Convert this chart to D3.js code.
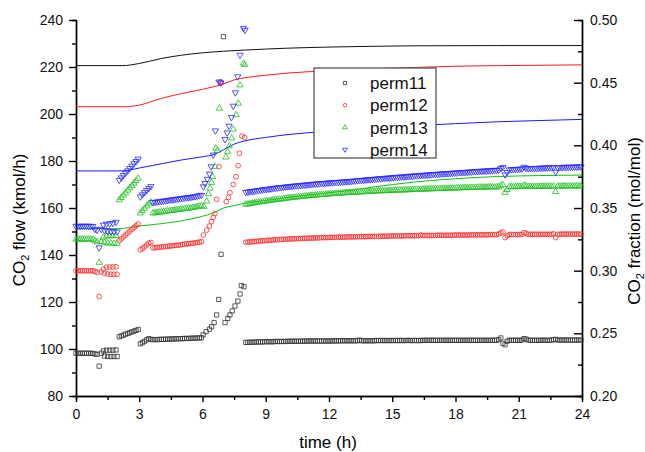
<!DOCTYPE html>
<html lang="en">
<head>
<meta charset="UTF-8">
<title>CO2 flow and CO2 fraction vs time</title>
<script src="https://cdn.jsdelivr.net/npm/d3@7"></script>
<style>
    body { margin: 0; background: #fff; }
    svg { font-family: "Liberation Sans", Arial, sans-serif; }
</style>
</head>
<body>
<script>
    // ---- data ----
    let seriesNames = ["perm11", "perm12", "perm13", "perm14"]
    let seriesColors = {perm11: '#333333', perm12: '#ff2a2a', perm13: '#22c022', perm14: '#2a2aff'}
    let lineColors = {perm11: '#111111', perm12: '#ff1a1a', perm13: '#10c010', perm14: '#1a1aff'}

    let timeTicks = [0, 3, 6, 9, 12, 15, 18, 21, 24]
    let timeMinor = [1.5, 4.5, 7.5, 10.5, 13.5, 16.5, 19.5, 22.5]
    let flowTicks = [80, 100, 120, 140, 160, 180, 200, 220, 240]
    let flowMinor = [90, 110, 130, 150, 170, 190, 210, 230]
    let fracTicks = [0.20, 0.25, 0.30, 0.35, 0.40, 0.45, 0.50]
    let fracMinor = [0.225, 0.275, 0.325, 0.375, 0.425, 0.475]

    // CO2 flow (kmol/h), start-up period: [time, flow]
    let perm11Early = [[0,98.2],[0.1,98.2],[0.2,98.2],[0.3,98.2],[0.4,98.2],[0.5,98.2],[0.6,98.2],[0.7,98.2],[0.8,98.1],[0.9,97.9],[1.0,97.7],[1.1,92.7],[1.2,98.2],
        [1.3,99.2],[1.45,99.5],[1.6,99.5],[1.75,99.5],[1.9,99.6],[1.35,97.0],[1.5,96.8],[1.65,96.8],[1.8,96.8],[1.95,96.8],
        [2.05,105.2],[2.15,105.6],[2.25,105.9],[2.35,106.3],[2.45,106.6],[2.55,106.9],[2.65,107.3],[2.75,107.6],[2.85,107.9],[2.95,108.3],
        [3.05,102.2],[3.15,102.7],[3.25,103.3],[3.35,103.9],[3.45,104.4],[3.55,104.1],
        [3.65,104.0],[3.75,104.0],[3.85,104.0],[3.95,104.1],[4.05,104.1],[4.15,104.1],[4.25,104.2],[4.35,104.2],[4.45,104.2],[4.55,104.3],[4.65,104.3],[4.75,104.3],
        [4.85,104.4],[4.95,104.4],[5.05,104.4],[5.15,104.5],[5.25,104.5],[5.35,104.5],[5.45,104.6],[5.55,104.6],[5.65,104.6],[5.75,104.7],[5.85,104.7],[5.95,104.8],
        [6.03,106.0],[6.17,107.4],[6.33,108.4],[6.43,109.5],[6.55,111.2],[6.67,114.5],[6.77,121.1],[6.88,140.3],[6.99,232.9],
        [7.07,111.2],[7.2,113.0],[7.3,114.5],[7.41,116.2],[7.54,118.3],[7.68,120.4],[7.78,123.4],[7.84,127.0],[7.97,126.5]]
    let perm12Early = [[0,133.3],[0.1,133.3],[0.2,133.3],[0.3,133.3],[0.4,133.3],[0.5,133.3],[0.6,133.3],[0.7,133.3],[0.8,133.3],[0.9,133.0],[1.0,132.6],[1.1,122.3],[1.2,132.8],
        [1.3,134.0],[1.45,134.8],[1.6,134.9],[1.75,134.9],[1.9,135.0],[1.35,132.2],[1.5,131.9],[1.65,131.8],[1.8,131.8],[1.95,131.8],
        [2.05,146.1],[2.15,146.9],[2.25,147.7],[2.35,148.5],[2.45,149.3],[2.55,150.1],[2.65,150.9],[2.75,151.7],[2.85,152.4],[2.95,153.2],
        [3.05,142.2],[3.15,142.8],[3.25,143.5],[3.35,144.3],[3.45,145.0],[3.55,145.3],
        [3.65,143.0],[3.75,143.1],[3.85,143.2],[3.95,143.3],[4.05,143.4],[4.15,143.5],[4.25,143.6],[4.35,143.7],[4.45,143.8],[4.55,143.9],[4.65,144.0],[4.75,144.1],
        [4.85,144.2],[4.95,144.3],[5.05,144.5],[5.15,144.6],[5.25,144.7],[5.35,144.8],[5.45,144.9],[5.55,145.1],[5.65,145.2],[5.75,145.3],[5.85,145.5],[5.95,145.7],
        [6.04,148.5],[6.2,150.6],[6.33,152.3],[6.43,154.2],[6.51,156.0],[6.59,157.6],[6.67,163.7],[6.78,177.6],[6.86,213.7],[6.9,213.2],
        [7.13,162.7],[7.23,164.5],[7.3,166.5],[7.46,170.0],[7.59,173.3],[7.69,178.0],[7.75,183.3],[7.87,190.6],[8.0,190.0]]
    let perm13Early = [[0,146.7],[0.1,146.7],[0.2,146.7],[0.3,146.7],[0.4,146.7],[0.5,146.7],[0.6,146.7],[0.7,146.7],[0.8,146.6],[0.9,146.0],[1.0,145.5],[1.1,136.8],[1.2,145.6],
        [1.3,147.5],[1.45,148.0],[1.6,148.1],[1.75,148.1],[1.9,148.2],[1.35,145.3],[1.5,145.0],[1.65,145.0],[1.8,144.9],[1.95,144.9],
        [2.05,163.4],[2.15,164.4],[2.25,165.4],[2.35,166.4],[2.45,167.5],[2.55,168.5],[2.65,169.5],[2.75,170.5],[2.85,171.6],[2.95,172.6],
        [3.05,157.8],[3.15,158.8],[3.25,159.8],[3.35,160.8],[3.45,161.7],[3.55,162.5],
        [3.65,157.8],[3.75,157.9],[3.85,158.0],[3.95,158.2],[4.05,158.3],[4.15,158.4],[4.25,158.5],[4.35,158.7],[4.45,158.8],[4.55,158.9],[4.65,159.0],[4.75,159.2],
        [4.85,159.3],[4.95,159.4],[5.05,159.5],[5.15,159.7],[5.25,159.8],[5.35,159.9],[5.45,160.0],[5.55,160.2],[5.65,160.3],[5.75,160.5],[5.85,160.7],[5.95,160.9],
        [6.07,160.6],[6.2,162.9],[6.28,166.0],[6.36,168.4],[6.43,170.8],[6.48,173.3],[6.59,177.6],[6.64,185.4],[6.7,184.4],[6.8,202.4],
        [7.11,181.6],[7.19,184.0],[7.27,186.4],[7.38,189.7],[7.46,193.5],[7.59,199.6],[7.7,204.5],[7.78,212.3],[7.94,221.6],[8.0,221.0]]
    let perm14Early = [[0,152.3],[0.1,152.3],[0.2,152.3],[0.3,152.3],[0.4,152.3],[0.5,152.3],[0.6,152.3],[0.7,152.3],[0.8,152.2],[0.9,151.0],[1.0,150.6],[1.1,143.1],[1.2,151.0],
        [1.3,152.8],[1.45,153.2],[1.6,153.3],[1.75,153.5],[1.9,154.0],[1.35,150.5],[1.5,150.2],[1.65,150.0],[1.8,150.0],[1.95,149.9],
        [2.05,171.9],[2.15,172.9],[2.25,173.9],[2.35,174.9],[2.45,175.9],[2.55,176.9],[2.65,177.9],[2.75,178.9],[2.85,179.9],[2.95,180.9],
        [3.05,164.8],[3.15,165.7],[3.25,166.6],[3.35,167.5],[3.45,168.4],[3.55,169.2],
        [3.65,162.4],[3.75,162.5],[3.85,162.6],[3.95,162.8],[4.05,162.9],[4.15,163.0],[4.25,163.1],[4.35,163.3],[4.45,163.4],[4.55,163.5],[4.65,163.6],[4.75,163.8],
        [4.85,163.9],[4.95,164.0],[5.05,164.1],[5.15,164.3],[5.25,164.4],[5.35,164.5],[5.45,164.6],[5.55,164.8],[5.65,164.9],[5.75,165.1],[5.85,165.3],[5.95,165.5],
        [6.04,169.1],[6.12,170.5],[6.23,172.3],[6.33,174.5],[6.41,177.6],[6.51,182.6],[6.61,192.9],[6.78,213.7],[6.86,213.3],
        [7.07,189.2],[7.17,192.0],[7.26,194.9],[7.37,198.6],[7.46,203.4],[7.56,209.1],[7.67,215.9],[7.78,225.1],[7.94,236.5],[8.02,235.7]]

    // CO2 flow (kmol/h), steady period: one value every lateStep hours from lateStart
    let lateStart = 8.05
    let lateStep = 0.1
    let perm11Late = [
        102.8,102.8,102.9,102.9,102.9,103.0,103.0,103.0,103.0,103.1, 103.1,103.1,103.1,103.1,103.2,103.2,103.2,103.2,103.2,103.2,
        103.3,103.3,103.3,103.3,103.3,103.3,103.3,103.4,103.3,103.4, 103.4,103.4,103.4,103.4,103.4,103.4,103.4,103.4,103.4,103.4,
        103.4,103.4,103.5,103.4,103.5,103.5,103.5,103.5,103.5,103.5, 103.5,103.5,103.5,103.5,103.8,103.5,103.5,103.5,103.5,103.5,
        103.5,103.5,103.6,103.6,103.6,103.6,103.6,103.6,103.6,103.6, 103.6,103.6,103.6,103.6,103.6,103.6,103.6,103.7,103.6,103.6,
        103.6,103.6,103.6,103.6,103.7,103.7,103.7,103.7,103.7,103.7, 103.7,103.7,103.7,103.7,103.7,103.7,103.7,103.7,103.7,103.7,
        103.7,103.7,103.7,103.7,103.7,103.7,103.7,103.7,103.7,103.7, 103.7,103.7,103.7,103.7,103.7,103.7,103.7,103.7,103.7,103.8,
        104.0,104.7,102.4,101.8,103.3,103.7,103.7,103.7,103.7,103.7, 103.7,103.8,104.4,104.2,103.8,103.7,103.7,103.7,103.7,103.7,
        103.7,103.8,103.7,103.7,103.7,103.8,104.0,104.1,103.8,103.8, 103.8,103.8,103.8,103.8,103.8,103.8,103.8,103.8,103.8,103.8]
    let perm12Late = [
        145.4,145.5,145.6,145.6,145.7,145.8,145.9,146.0,146.0,146.1, 146.2,146.3,146.3,146.4,146.5,146.5,146.6,146.6,146.7,146.7,
        146.8,146.8,146.9,146.9,147.0,147.0,147.0,147.1,147.1,147.1, 147.2,147.2,147.2,147.3,147.3,147.3,147.4,147.4,147.4,147.4,
        147.5,147.5,147.5,147.5,147.6,147.6,147.6,147.6,147.7,147.7, 147.7,147.7,147.7,147.8,147.8,147.8,147.8,147.8,147.9,147.9,
        147.9,147.9,147.9,147.9,148.0,148.0,148.0,148.0,148.0,148.1, 148.1,148.1,148.1,148.1,148.1,148.1,148.2,148.2,148.2,148.2,
        148.2,148.2,148.2,148.5,148.3,148.3,148.3,148.3,148.3,148.3, 148.3,148.4,148.4,148.4,148.4,148.4,148.4,148.4,148.4,148.5,
        148.5,148.5,148.5,148.5,148.5,148.5,148.5,148.6,148.6,148.6, 148.6,148.6,148.6,148.6,148.6,148.6,148.7,148.7,148.7,148.7,
        148.9,149.4,149.8,147.4,148.2,148.7,148.7,148.7,148.7,148.7, 148.7,148.8,149.5,149.2,148.8,148.8,148.8,148.8,148.8,148.8,
        148.8,148.8,148.8,148.8,148.8,148.8,149.0,147.4,148.8,148.8, 148.9,148.9,148.9,148.9,148.9,148.9,148.9,148.9,148.9,148.9]
    let perm13Late = [
        161.5,161.7,161.8,162.0,162.1,162.3,162.4,162.6,162.7,162.9, 163.0,163.1,163.2,163.4,163.5,163.6,163.7,163.8,163.9,164.1,
        164.2,164.3,164.4,164.5,164.6,164.7,164.8,164.9,165.0,165.1, 165.2,165.3,165.4,165.4,165.5,165.6,165.7,165.7,165.8,165.9,
        166.0,166.0,166.1,166.2,166.2,166.3,166.3,166.4,166.5,166.5, 166.6,166.6,166.7,166.7,166.8,166.8,166.9,166.9,167.0,167.0,
        167.1,167.1,167.2,167.2,167.2,167.3,167.3,167.3,167.4,167.4, 167.5,167.5,167.5,167.6,167.6,167.6,167.7,167.7,167.7,167.8,
        167.9,167.9,167.9,167.9,168.0,168.0,168.0,168.1,168.1,168.1, 168.2,168.2,168.2,168.3,168.3,168.3,168.3,168.4,168.4,168.4,
        168.5,168.5,168.5,168.6,168.6,168.6,168.6,168.7,168.7,168.7, 168.8,168.8,168.8,168.8,168.8,168.9,168.9,168.9,168.9,168.9,
        169.0,169.6,169.8,166.6,167.8,169.0,169.0,169.0,169.0,169.1, 169.1,169.1,169.6,169.4,169.1,169.1,169.1,169.1,169.1,169.1,
        169.2,169.2,169.2,169.2,169.2,169.2,169.3,166.9,169.2,169.2, 169.3,169.3,169.3,169.3,169.3,169.3,169.3,169.3,169.3,169.3]
    let perm14Late = [
        166.7,166.8,167.0,167.1,167.2,167.4,167.5,167.6,167.8,167.9, 168.0,168.1,168.2,168.4,168.5,168.6,168.7,168.8,168.9,169.0,
        169.1,169.2,169.3,169.4,169.5,169.5,169.6,169.7,169.8,169.9, 170.0,170.1,170.2,170.2,170.3,170.4,170.5,170.5,170.6,170.7,
        170.8,170.8,170.9,170.9,171.0,171.1,171.1,171.2,171.3,171.3, 171.4,171.5,171.6,171.7,171.8,171.8,171.9,172.0,172.1,172.1,
        172.2,172.3,172.4,172.5,172.5,172.6,172.7,172.8,172.8,172.9, 173.0,173.1,173.1,173.2,173.3,173.3,173.4,173.5,173.6,173.6,
        173.7,173.8,173.8,173.9,174.0,174.0,174.1,174.2,174.2,174.3, 174.4,174.4,174.5,174.6,174.6,174.7,174.7,174.8,174.9,174.9,
        175.0,175.1,175.1,175.2,175.2,175.3,175.4,175.4,175.5,175.5, 175.6,175.7,175.7,175.8,175.8,175.9,175.9,176.0,176.1,176.1,
        176.2,176.9,177.3,174.2,175.2,176.3,176.4,176.4,176.5,176.5, 176.6,176.7,177.4,177.0,176.8,176.8,176.9,176.9,176.9,177.0,
        177.0,177.1,177.1,177.1,177.2,177.2,177.3,175.3,177.2,177.3, 177.3,177.4,177.4,177.4,177.4,177.5,177.5,177.5,177.6,177.6]

    // CO2 fraction (mol/mol), right axis: [time, fraction]
    let perm11Frac = [[0,0.4636],[2.2,0.4636],[3,0.4653],[4,0.4691],[5,0.4719],[6,0.4738],[7,0.4751],[8,0.4760],[10,0.4775],[12,0.4784],[14,0.4790],[16,0.4794],[20,0.4796],[24,0.4796]]
    let perm12Frac = [[0,0.4308],[2.3,0.4308],[3,0.4321],[4,0.4372],[5,0.4413],[6,0.4447],[7,0.4490],[7.5,0.4522],[8,0.4539],[9,0.4559],[10,0.4576],[12,0.4595],[14,0.4610],[16,0.4621],[18,0.4631],[20,0.4636],[24,0.4642]]
    let perm13Frac = [[0,0.3335],[2,0.3335],[3,0.3356],[4,0.3374],[5,0.3397],[6,0.3434],[6.5,0.3459],[7,0.3500],[7.5,0.3519],[8,0.3538],[9,0.3560],[10,0.3583],[11,0.3603],[12,0.3622],[13,0.3641],[14,0.3665],[16,0.3706],[18,0.3734],[20,0.3751],[22,0.3759],[24,0.3763]]
    let perm14Frac = [[0,0.3796],[2.2,0.3796],[3,0.3819],[4,0.3851],[5,0.3883],[6,0.3909],[6.6,0.3930],[7,0.3965],[7.5,0.4010],[8,0.4035],[9,0.4063],[10,0.4085],[12,0.4113],[14,0.4138],[16,0.4156],[18,0.4173],[20,0.4188],[22,0.4198],[24,0.4207]]

    let flowEarly = {perm11: perm11Early, perm12: perm12Early, perm13: perm13Early, perm14: perm14Early}
    let flowLate = {perm11: perm11Late, perm12: perm12Late, perm13: perm13Late, perm14: perm14Late}
    let fracLines = {perm11: perm11Frac, perm12: perm12Frac, perm13: perm13Frac, perm14: perm14Frac}

    // ---- chart ----
    let svg = d3.select('body').append('svg')
        .attr('width', 645)
        .attr('height', 452)

    let x = d3.scaleLinear().domain([0, 24]).range([76, 582])
    let y = d3.scaleLinear().domain([80, 240]).range([396, 20])
    let yR = d3.scaleLinear().domain([0.2, 0.5]).range([396, 20])

    function styleAxis(g) {
        g.select('.domain').attr('stroke', '#000').attr('stroke-width', 1.4)
        g.selectAll('.tick line').attr('stroke', '#000').attr('stroke-width', 1.4)
        g.selectAll('.tick text').attr('font-size', 14).attr('fill', '#111')
            .attr('font-family', '"Liberation Sans", Arial, sans-serif')
    }

    // bottom axis
    svg.append('g').attr('transform', 'translate(0,396)')
        .call(d3.axisBottom(x).tickValues(timeMinor).tickSize(4).tickFormat(''))
        .call(styleAxis)
    svg.append('g').attr('transform', 'translate(0,396)')
        .call(d3.axisBottom(x).tickValues(timeTicks).tickSizeInner(6).tickSizeOuter(0).tickPadding(7))
        .call(styleAxis)

    // left axis
    svg.append('g').attr('transform', 'translate(76,0)')
        .call(d3.axisLeft(y).tickValues(flowMinor).tickSize(4).tickFormat(''))
        .call(styleAxis)
    svg.append('g').attr('transform', 'translate(76,0)')
        .call(d3.axisLeft(y).tickValues(flowTicks).tickSizeInner(7).tickSizeOuter(0).tickPadding(6))
        .call(styleAxis)

    // right axis, ticks pointing inwards
    svg.append('g').attr('transform', 'translate(582,0)')
        .call(d3.axisRight(yR).tickValues(fracMinor).tickSize(-4).tickFormat(''))
        .call(styleAxis)
    svg.append('g').attr('transform', 'translate(582,0)')
        .call(d3.axisRight(yR).tickValues(fracTicks).tickSizeInner(-8).tickSizeOuter(0).tickPadding(8).tickFormat(d3.format('.2f')))
        .call(styleAxis)

    // axis titles
    svg.append('text')
        .attr('x', 328).attr('y', 448)
        .attr('text-anchor', 'middle')
        .attr('font-size', 17)
        .text('time (h)')

    let leftTitle = svg.append('text')
        .attr('transform', 'translate(25,220) rotate(-90)')
        .attr('text-anchor', 'middle')
        .attr('font-size', 17)
    leftTitle.append('tspan').text('CO')
    leftTitle.append('tspan').attr('font-size', 11).attr('dy', 4).text('2')
    leftTitle.append('tspan').attr('dy', -4).text(' flow (kmol/h)')

    let rightTitle = svg.append('text')
        .attr('transform', 'translate(640,221) rotate(-90)')
        .attr('text-anchor', 'middle')
        .attr('font-size', 17)
    rightTitle.append('tspan').text('CO')
    rightTitle.append('tspan').attr('font-size', 11).attr('dy', 4).text('2')
    rightTitle.append('tspan').attr('dy', -4).text(' fraction (mol/mol)')

    // fraction lines
    let fracLine = d3.line()
        .x(function (d) { return x(d[0]) })
        .y(function (d) { return yR(d[1]) })
        .curve(d3.curveMonotoneX)

    svg.selectAll('path.frac')
        .data(seriesNames)
        .enter()
        .append('path')
        .attr('class', 'frac')
        .attr('d', function (d) { return fracLine(fracLines[d]) })
        .attr('fill', 'none')
        .attr('stroke', function (d) { return lineColors[d] })
        .attr('stroke-width', 1)

    // flow markers
    let symbolType = {perm11: d3.symbolSquare, perm12: d3.symbolCircle, perm13: d3.symbolTriangle, perm14: d3.symbolTriangle}
    let symbolSize = {perm11: 18, perm12: 18, perm13: 17, perm14: 17}
    let symbolRotate = {perm11: 0, perm12: 0, perm13: 0, perm14: 180}

    function flowPoints(name) {
        let pts = flowEarly[name].map(function (p) { return {t: p[0], v: p[1]} })
        flowLate[name].forEach(function (v, i) {
            pts.push({t: lateStart + i * lateStep, v: v})
        })
        return pts
    }

    seriesNames.forEach(function (name) {
        let sym = d3.symbol().type(symbolType[name]).size(symbolSize[name])
        svg.append('g')
            .selectAll('path')
            .data(flowPoints(name))
            .enter()
            .append('path')
            .attr('d', sym)
            .attr('transform', function (d) {
                return 'translate(' + x(d.t) + ',' + y(d.v) + ') rotate(' + symbolRotate[name] + ')'
            })
            .attr('fill', 'none')
            .attr('stroke', seriesColors[name])
            .attr('stroke-width', 0.8)
    })

    // legend
    let legend = svg.append('g').attr('transform', 'translate(314,68)')
    legend.append('rect')
        .attr('width', 122).attr('height', 90)
        .attr('fill', '#fff')
        .attr('stroke', '#555')
        .attr('stroke-width', 1.3)

    let rows = legend.selectAll('g.row')
        .data(seriesNames)
        .enter()
        .append('g')
        .attr('class', 'row')
        .attr('transform', function (d, i) { return 'translate(0,' + (15 + i * 22.2) + ')' })

    rows.append('path')
        .attr('d', function (d) { return d3.symbol().type(symbolType[d]).size(10)() })
        .attr('transform', function (d) { return 'translate(31,0) rotate(' + symbolRotate[d] + ')' })
        .attr('fill', 'none')
        .attr('stroke', function (d) { return seriesColors[d] })
        .attr('stroke-width', 0.8)

    rows.append('text')
        .attr('x', 56)
        .attr('dy', '0.36em')
        .attr('font-size', 17)
        .attr('fill', '#111')
        .text(function (d) { return d })
</script>
</body>
</html>
